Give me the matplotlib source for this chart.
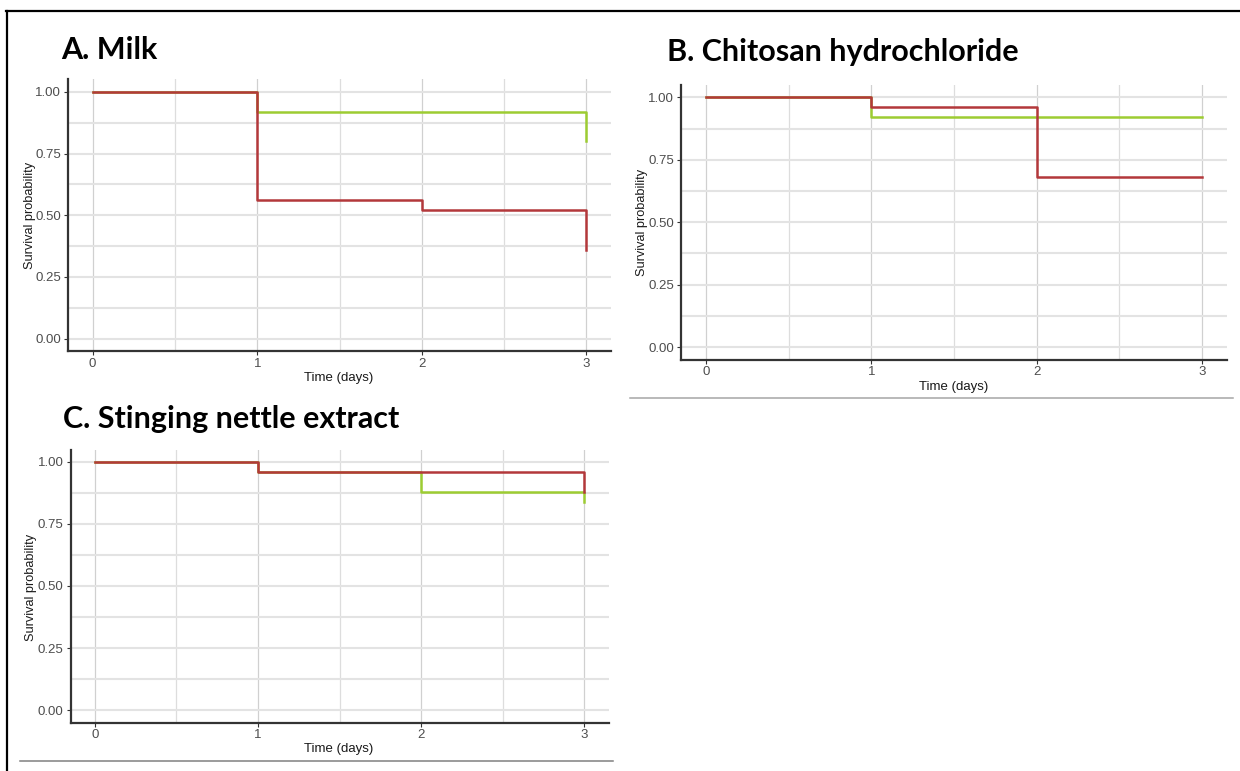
import numpy as np
import matplotlib
matplotlib.use("Agg")
import matplotlib.pyplot as plt
from matplotlib.lines import Line2D

# Kaplan-Meier step data
titles = ["A. Milk", "B. Chitosan hydrochloride", "C. Stinging nettle extract"]

milk_red_t = [0, 1, 2, 3]
milk_red_s = [1.00, 0.56, 0.52, 0.36]
milk_green_t = [0, 1, 3]
milk_green_s = [1.00, 0.92, 0.80]

chit_red_t = [0, 1, 2, 3]
chit_red_s = [1.00, 0.96, 0.68, 0.68]
chit_green_t = [0, 1, 3]
chit_green_s = [1.00, 0.92, 0.92]

nettle_red_t = [0, 1, 3]
nettle_red_s = [1.00, 0.96, 0.88]
nettle_green_t = [0, 1, 2, 3]
nettle_green_s = [1.00, 0.96, 0.88, 0.84]

x_ticks = [0, 1, 2, 3]
y_ticks = [0.00, 0.25, 0.50, 0.75, 1.00]
y_ticklabels = ["0.00", "0.25", "0.50", "0.75", "1.00"]

RED = "#B3383B"
GREEN = "#9DCC32"

W, H = 1240, 771
fig = plt.figure(figsize=(W / 100, H / 100), dpi=100)


def px_axes(left, top, right, bottom):
    return fig.add_axes([left / W, 1 - bottom / H, (right - left) / W, (bottom - top) / H])


def km_panel(ax, red_t, red_s, green_t, green_s):
    ax.set_xlim(-0.15, 3.15)
    ax.set_ylim(-0.05, 1.05)
    ax.set_xticks(x_ticks)
    ax.set_xticks([0.5, 1.5, 2.5], minor=True)
    ax.set_yticks(y_ticks)
    ax.set_yticklabels(y_ticklabels)
    ax.set_yticks([0.125, 0.375, 0.625, 0.875], minor=True)
    ax.grid(True, which="major", axis="x", color="#D0D0D0", lw=0.9)
    ax.grid(True, which="minor", axis="x", color="#DDDDDD", lw=0.9)
    ax.grid(True, which="both", axis="y", color="#E3E3E3", lw=1.5)
    ax.set_axisbelow(True)
    for s in ["top", "right"]:
        ax.spines[s].set_visible(False)
    for s in ["left", "bottom"]:
        ax.spines[s].set_color("#333333")
        ax.spines[s].set_linewidth(1.6)
    ax.tick_params(which="major", length=3, width=0.8, color="#333333",
                   labelcolor="#4D4D4D", labelsize=9.5, pad=2)
    ax.tick_params(which="minor", length=0)
    for lab in ax.get_xticklabels() + ax.get_yticklabels():
        lab.set_family("Liberation Sans")
    ax.step(green_t, green_s, where="post", color=GREEN, lw=1.8)
    ax.step(red_t, red_s, where="post", color=RED, lw=1.8)


axA = px_axes(68, 79.5, 611, 351)
km_panel(axA, milk_red_t, milk_red_s, milk_green_t, milk_green_s)
axB = px_axes(681, 85, 1227, 359.5)
km_panel(axB, chit_red_t, chit_red_s, chit_green_t, chit_green_s)
axC = px_axes(70.5, 449.5, 608.5, 722.5)
km_panel(axC, nettle_red_t, nettle_red_s, nettle_green_t, nettle_green_s)

# panel titles
title_pos = [(61, 59), (667, 61), (63, 428)]
for t, (x, y) in zip(titles, title_pos):
    fig.text(x / W, 1 - y / H, t, fontsize=22, fontweight="bold", family="Lato",
             ha="left", va="baseline", color="black")

# axis titles
ylab_pos = [(30, 215), (642, 222), (31, 587)]
for x, y in ylab_pos:
    fig.text(x / W, 1 - y / H, "Survival probability", rotation=90, fontsize=9.2,
             family="Liberation Sans", ha="center", va="center", color="#1A1A1A")
xlab_pos = [(339, 378), (954, 387), (339, 749)]
for x, y in xlab_pos:
    fig.text(x / W, 1 - y / H, "Time (days)", fontsize=9.5,
             family="Liberation Sans", ha="center", va="center", color="#1A1A1A")

# outer frame and separator lines
fig.add_artist(Line2D([6 / W, 1], [1 - 10.5 / H, 1 - 10.5 / H], color="black", lw=1.6))
fig.add_artist(Line2D([7 / W, 7 / W], [1 - 10.5 / H, 0], color="black", lw=1.6))
fig.add_artist(Line2D([630 / W, 1233 / W], [1 - 398 / H, 1 - 398 / H], color="#A6A6A6", lw=1.1))
fig.add_artist(Line2D([20 / W, 613 / W], [1 - 761 / H, 1 - 761 / H], color="#808080", lw=1.1))

fig.savefig("out.png", dpi=100)
